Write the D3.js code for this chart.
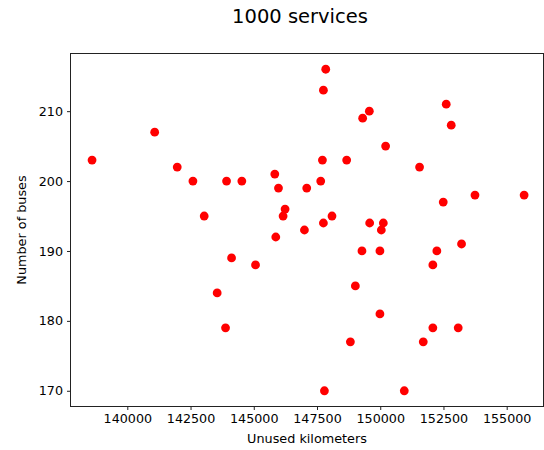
<!DOCTYPE html>
<html>
<head>
<meta charset="utf-8">
<script src="https://cdn.jsdelivr.net/npm/d3@7"></script>
<style>
  body { margin: 0; background: #fff; }
  text { font-family: "DejaVu Sans", sans-serif; fill: #000; }
</style>
</head>
<body>
<div id="chart"></div>
<script>
// unused kilometers vs number of buses
let kilometers = [
    138606, 141082, 141974, 142594, 143924, 144528, 143040, 145831, 145977, 147094,
    146238, 146159, 147003, 145870, 147845, 147753, 152609, 149569, 149305, 152807,
    150213, 147714, 148673, 151555, 147647, 153746, 155689, 152491, 148093, 147753,
    149582, 150122, 150043, 153215, 149277, 149988, 152238, 152080, 149017, 149988,
    152080, 153083, 148820, 151701, 147793, 150951, 144122, 145069, 143553, 143884
];
let buses = [
    203, 207, 202, 200, 200, 200, 195, 201, 199, 199,
    196, 195, 193, 192, 216, 213, 211, 210, 209, 208,
    205, 203, 203, 202, 200, 198, 198, 197, 195, 194,
    194, 194, 193, 191, 190, 190, 190, 188, 185, 181,
    179, 179, 177, 177, 170, 170, 189, 188, 184, 179
];
let xTicks = [140000, 142500, 145000, 147500, 150000, 152500, 155000];
let yTicks = [170, 180, 190, 200, 210];

let svgW = 544, svgH = 450;
let mLeft = 70.5, mRight = 543.5, mTop = 53.5, mBottom = 406.5;

let svg = d3.select('#chart').append('svg')
    .attr('width', svgW)
    .attr('height', svgH);

let x = d3.scaleLinear().domain([137754, 156455]).range([mLeft, mRight]);
let y = d3.scaleLinear().domain([167.75, 218.25]).range([mBottom, mTop]);

// points
svg.append('g').selectAll('circle')
    .data(kilometers.map((k, i) => [k, buses[i]]))
    .enter().append('circle')
    .attr('cx', d => x(d[0]))
    .attr('cy', d => y(d[1]))
    .attr('r', 4.4)
    .attr('fill', '#ff0000');

// frame
svg.append('rect')
    .attr('x', mLeft).attr('y', mTop)
    .attr('width', mRight - mLeft).attr('height', mBottom - mTop)
    .attr('fill', 'none')
    .attr('stroke', '#222')
    .attr('stroke-width', 1);

let xAxis = svg.append('g')
    .attr('transform', `translate(0,${mBottom})`)
    .call(d3.axisBottom(x).tickValues(xTicks).tickFormat(d3.format('d')).tickSize(3.5).tickPadding(4));
let yAxis = svg.append('g')
    .attr('transform', `translate(${mLeft},0)`)
    .call(d3.axisLeft(y).tickValues(yTicks).tickFormat(d3.format('d')).tickSize(3.5).tickPadding(4));

[xAxis, yAxis].forEach(a => {
    a.select('.domain').remove();
    a.selectAll('.tick line').attr('stroke', '#222');
    a.selectAll('.tick text')
        .style('font-family', '"DejaVu Sans", sans-serif')
        .style('font-size', '12.7px')
        .attr('fill', '#222');
});

// title is centred on the figure, not the axes
svg.append('text')
    .attr('x', 300)
    .attr('y', 22.7)
    .attr('text-anchor', 'middle')
    .style('font-size', '19.5px')
    .text('1000 services');

svg.append('text')
    .attr('x', (mLeft + mRight) / 2)
    .attr('y', 443)
    .attr('text-anchor', 'middle')
    .style('font-size', '12.8px')
    .text('Unused kilometers');

svg.append('text')
    .attr('transform', `translate(26,${(mTop + mBottom) / 2}) rotate(-90)`)
    .attr('text-anchor', 'middle')
    .style('font-size', '12.8px')
    .text('Number of buses');
</script>
</body>
</html>
